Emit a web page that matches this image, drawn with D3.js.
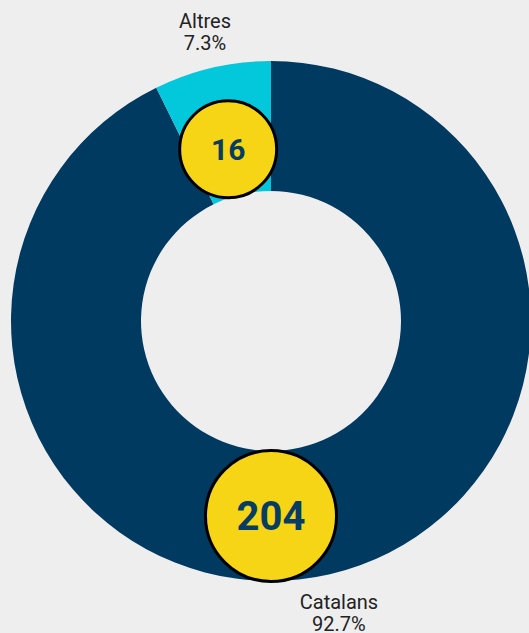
<!DOCTYPE html>
<html><head><meta charset="utf-8">
<script src="https://cdn.jsdelivr.net/npm/d3@7/dist/d3.min.js"></script>
<style>
html,body{margin:0;padding:0;background:#eeeeee;overflow:hidden;}
svg{display:block;}
</style></head>
<body>
<svg id="chart" width="529" height="633"></svg>
<script>
const categories = ["Catalans", "Altres"];
const values = [204, 16];
const percentLabels = ["92.7%", "7.3%"];
const colors = ["#003a60", "#03c8dc"];

const W = 529, H = 633;
const cx = 271, cy = 321;
const outerR = 260, innerR = 130;

const svg = d3.select("#chart");
svg.append("rect").attr("width", W).attr("height", H).attr("fill", "#eeeeee");
const g = svg.append("g").attr("transform", `translate(${cx},${cy})`);

const data = categories.map((c, i) => ({ cat: c, value: values[i], pct: percentLabels[i], color: colors[i] }));
const pie = d3.pie().sort(null).value(d => d.value);
const arcs = pie(data);
const arc = d3.arc().innerRadius(innerR).outerRadius(outerR);

g.selectAll("path.slice").data(arcs).enter().append("path")
  .attr("class", "slice")
  .attr("d", arc)
  .attr("fill", d => d.data.color);

// outer labels
const labelArc = d3.arc().innerRadius(300).outerRadius(300);
const lab = g.selectAll("g.lab").data(arcs).enter().append("g")
  .attr("class", "lab")
  .attr("transform", d => {
    const [x, y] = labelArc.centroid(d);
    return y < 0 ? `translate(${x + 2},${y - 1})` : `translate(${x},${y - 4.5})`;
  });
lab.append("text").attr("text-anchor", "middle").attr("y", 0)
  .style("font-family", "Roboto, sans-serif").style("font-size", "20px").attr("fill", "#222")
  .text(d => d.data.cat);
lab.append("text").attr("text-anchor", "middle").attr("y", 22.5)
  .style("font-family", "Roboto, sans-serif").style("font-size", "20px").attr("fill", "#222")
  .text(d => d.data.pct);

// bubbles
const rScale = d3.scaleLinear().domain(d3.extent(values)).range([48.5, 65.5]);
const fScale = d3.scaleLinear().domain(d3.extent(values)).range([30, 40]);
function bubblePos(d) {
  const big = d.data.value === d3.max(values);
  const ang = big ? Math.PI : (d.startAngle + d.endAngle) / 2 - 0.016;
  const r = big ? (innerR + outerR) / 2 : 177;
  return [r * Math.sin(ang), -r * Math.cos(ang)];
}
const bub = g.selectAll("g.bub").data(arcs).enter().append("g")
  .attr("class", "bub")
  .attr("transform", d => { const [x, y] = bubblePos(d); return `translate(${x},${y})`; });
bub.append("circle").attr("r", d => rScale(d.data.value))
  .attr("fill", "#f5d515").attr("stroke", "#000").attr("stroke-width", 3);
bub.append("text").attr("text-anchor", "middle").attr("dy", "0.35em")
  .style("font-family", "Roboto, sans-serif").style("font-weight", "700")
  .style("font-size", d => fScale(d.data.value) + "px").attr("fill", "#073d63")
  .text(d => d.data.value);
</script>
</body></html>
